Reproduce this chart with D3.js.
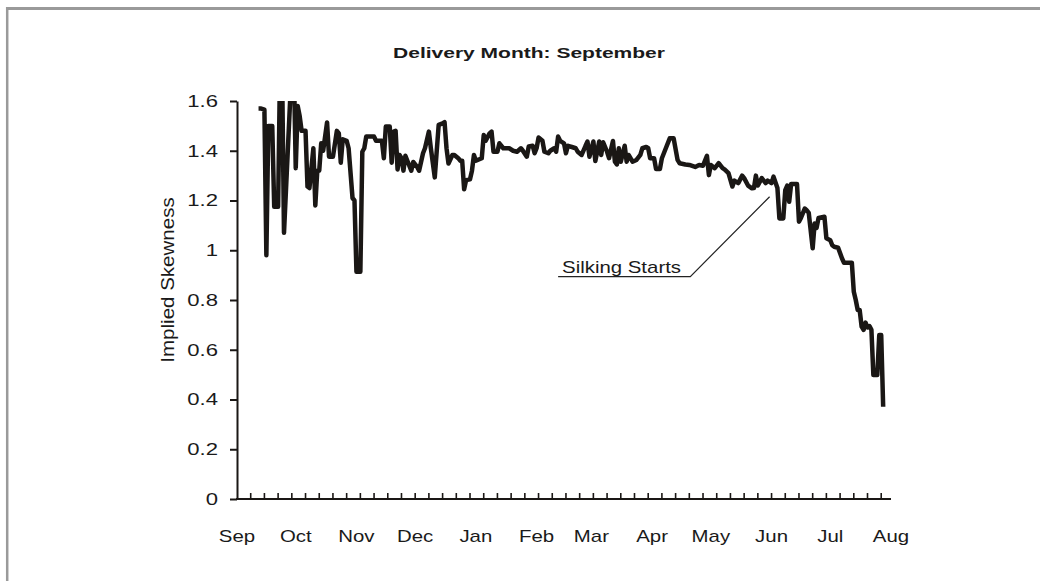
<!DOCTYPE html>
<html><head><meta charset="utf-8">
<script src="https://cdn.jsdelivr.net/npm/d3@7"></script>
<style>
html,body{margin:0;padding:0;background:#fff;}
svg{display:block;}
text{font-family:"Liberation Sans", Arial, sans-serif; fill:#1a1a1a;}
</style></head><body>
<svg id="chart" width="1040" height="581"></svg>
<script>
// ---------- data ----------
const chartTitle = "Delivery Month: September";
const yAxisTitle = "Implied Skewness";
const annotationText = "Silking Starts";
const axisStart = "2005-09-01";
const axisEnd = "2006-08-01";
const monthLabels = ["Sep","Oct","Nov","Dec","Jan","Feb","Mar","Apr","May","Jun","Jul","Aug"];
const yTickValues = [0, 0.2, 0.4, 0.6, 0.8, 1, 1.2, 1.4, 1.6];
const yTickLabels = ["0","0.2","0.4","0.6","0.8","1","1.2","1.4","1.6"];
// days since axisStart for each observation
const dayOffsets = [
  11,12,14,15,16,18,19,21,22,23,
  24,28,29,30,31,32,33,35,36,37,
  39,40,41,42,43,44,46,47,49,51,
  52,53,54,56,57,59,60,61,63,64,
  65,66,70,71,74,75,76,78,79,80,
  81,82,83,84,85,86,87,89,90,92,
  93,95,96,98,99,101,103,105,106,107,
  108,110,111,113,114,115,116,117,119,120,
  121,122,125,126,127,129,130,131,133,134,
  136,139,141,143,145,146,148,149,151,152,
  153,154,156,157,159,160,162,163,164,165,
  167,168,169,171,173,174,176,178,179,180,
  182,183,185,186,187,189,190,192,193,194,
  195,196,198,199,200,202,204,206,207,209,
  210,211,213,214,216,217,219,221,223,225,
  226,229,231,234,236,238,240,241,242,244,
  246,248,249,251,253,254,256,258,259,261,
  263,264,265,266,268,270,271,273,274,276,
  277,279,280,281,282,283,286,287,288,290,
  291,292,294,295,296,297,300,301,303,304,
  305,307,309,310,312,314,315,316,317,318,
  319,320,321,322,323,324,325,327,328,329,
  330
];
const skewness = [
  1.57,1.57,1.565,0.98,1.50,1.50,1.175,1.175,1.75,1.75,
  1.07,1.75,1.75,1.33,1.58,1.54,1.48,1.48,1.256,1.25,
  1.41,1.18,1.32,1.32,1.43,1.40,1.514,1.376,1.376,1.48,
  1.47,1.352,1.446,1.44,1.41,1.21,1.20,0.914,0.914,1.396,
  1.41,1.457,1.457,1.44,1.44,1.37,1.497,1.497,1.352,1.477,
  1.48,1.325,1.383,1.37,1.32,1.38,1.36,1.32,1.355,1.335,
  1.32,1.39,1.41,1.477,1.41,1.293,1.504,1.51,1.515,1.41,
  1.349,1.383,1.383,1.37,1.36,1.36,1.245,1.282,1.285,1.32,
  1.383,1.36,1.37,1.463,1.44,1.47,1.477,1.396,1.396,1.43,
  1.41,1.41,1.40,1.396,1.41,1.40,1.376,1.417,1.42,1.39,
  1.41,1.453,1.44,1.396,1.39,1.40,1.41,1.396,1.457,1.44,
  1.43,1.39,1.42,1.415,1.41,1.396,1.383,1.42,1.437,1.376,
  1.437,1.359,1.437,1.383,1.434,1.396,1.37,1.439,1.356,1.345,
  1.41,1.356,1.42,1.356,1.383,1.356,1.363,1.383,1.41,1.415,
  1.41,1.37,1.37,1.327,1.327,1.37,1.41,1.45,1.45,1.363,
  1.35,1.345,1.343,1.335,1.343,1.34,1.38,1.302,1.343,1.33,
  1.35,1.33,1.325,1.31,1.256,1.28,1.27,1.30,1.29,1.26,
  1.249,1.25,1.30,1.26,1.29,1.27,1.28,1.27,1.296,1.25,
  1.128,1.128,1.242,1.26,1.195,1.266,1.266,1.115,1.13,1.168,
  1.16,1.15,1.008,1.108,1.09,1.13,1.135,1.048,1.04,1.02,
  1.014,1.01,0.967,0.95,0.95,0.95,0.833,0.80,0.76,0.76,
  0.693,0.68,0.709,0.69,0.695,0.68,0.498,0.498,0.659,0.659,
  0.371
];
// annotation leader, in data units (day offset, value)
const annotationLabelAt = [166, 0.91];
const annotationPath = [[164, 0.894], [231.5, 0.894], [272, 1.215]];

// ---------- layout ----------
const W = 1040, H = 581;
const plot = {left: 237, right: 891, top: 101, bottom: 499};
const ink = "#1a1715";

const svg = d3.select("#chart");
const parse = d3.utcParse("%Y-%m-%d");
const t0 = parse(axisStart), t1 = parse(axisEnd);
const toDate = d => d3.utcDay.offset(t0, Math.floor(d)).getTime() + (d % 1) * 864e5;

const x = d3.scaleUtc().domain([t0, t1]).range([plot.left, plot.right]);
const y = d3.scaleLinear().domain([0, 1.6]).range([plot.bottom, plot.top]);

function stretch(sel, k) {
  sel.each(function () {
    const w = this.getComputedTextLength();
    this.setAttribute("textLength", (w * k).toFixed(1));
    this.setAttribute("lengthAdjust", "spacingAndGlyphs");
  });
}

// frame
svg.append("line").attr("x1", 6).attr("x2", W).attr("y1", 8.5).attr("y2", 8.5)
  .attr("stroke", "#9a9a9a").attr("stroke-width", 3);
svg.append("line").attr("x1", 7.2).attr("x2", 7.2).attr("y1", 7).attr("y2", H)
  .attr("stroke", "#9a9a9a").attr("stroke-width", 2.5);

// title
const tt = svg.append("text").attr("x", 529).attr("y", 58.3).attr("text-anchor", "middle")
  .attr("font-size", 15).attr("font-weight", "bold").text(chartTitle);
stretch(tt, 1.4);

// y axis
const yAxis = svg.append("g").attr("transform", `translate(${plot.left},0)`)
  .call(d3.axisLeft(y).tickValues(yTickValues).tickSize(7).tickSizeOuter(0).tickPadding(12)
    .tickFormat((d, i) => yTickLabels[i]));
yAxis.select(".domain").attr("stroke", ink).attr("stroke-width", 2);
yAxis.selectAll(".tick line").attr("stroke", ink).attr("stroke-width", 2);
yAxis.selectAll(".tick text").attr("font-size", 17).attr("fill", ink)
  .attr("font-family", "Liberation Sans, Arial, sans-serif");
stretch(yAxis.selectAll(".tick text"), 1.3);

// x axis: line, weekly inner ticks, month labels
const xg = svg.append("g");
xg.append("line").attr("x1", plot.left - 1).attr("x2", plot.right).attr("y1", plot.bottom).attr("y2", plot.bottom)
  .attr("stroke", ink).attr("stroke-width", 2);
const weeks = d3.range(1, 48).map(k => d3.utcDay.offset(t0, 7 * k));
xg.selectAll("line.wk").data(weeks).join("line").attr("class", "wk")
  .attr("x1", d => x(d)).attr("x2", d => x(d))
  .attr("y1", plot.bottom).attr("y2", plot.bottom - 6)
  .attr("stroke", ink).attr("stroke-width", 1.6);
const months = d3.utcMonth.range(t0, d3.utcDay.offset(t1, 1));
const ml = xg.selectAll("text.m").data(months).join("text").attr("class", "m")
  .attr("x", d => x(d)).attr("y", 542).attr("text-anchor", "middle")
  .attr("font-size", 17).attr("fill", ink)
  .text((d, i) => monthLabels[i]);
stretch(ml, 1.2);

// y axis title
const yt = svg.append("text").attr("transform", "translate(174,280) rotate(-90)")
  .attr("text-anchor", "middle").attr("font-size", 18).text(yAxisTitle);
stretch(yt, 1.14);

// series
const pts = dayOffsets.map((d, i) => [toDate(d), skewness[i]]);
svg.append("clipPath").attr("id", "clip").append("rect")
  .attr("x", plot.left).attr("y", plot.top).attr("width", plot.right - plot.left + 10).attr("height", plot.bottom - plot.top);
svg.append("path").datum(pts).attr("clip-path", "url(#clip)")
  .attr("fill", "none").attr("stroke", ink).attr("stroke-width", 4.5)
  .attr("stroke-linejoin", "round")
  .attr("d", d3.line().x(d => x(d[0])).y(d => y(d[1])));

// annotation
svg.append("path").datum(annotationPath)
  .attr("fill", "none").attr("stroke", "#222").attr("stroke-width", 1.2)
  .attr("d", d3.line().x(d => x(toDate(d[0]))).y(d => y(d[1])));
const at = svg.append("text").attr("x", x(toDate(annotationLabelAt[0]))).attr("y", y(annotationLabelAt[1]))
  .attr("font-size", 17).attr("fill", ink).text(annotationText);
stretch(at, 1.2);
</script>
</body></html>
